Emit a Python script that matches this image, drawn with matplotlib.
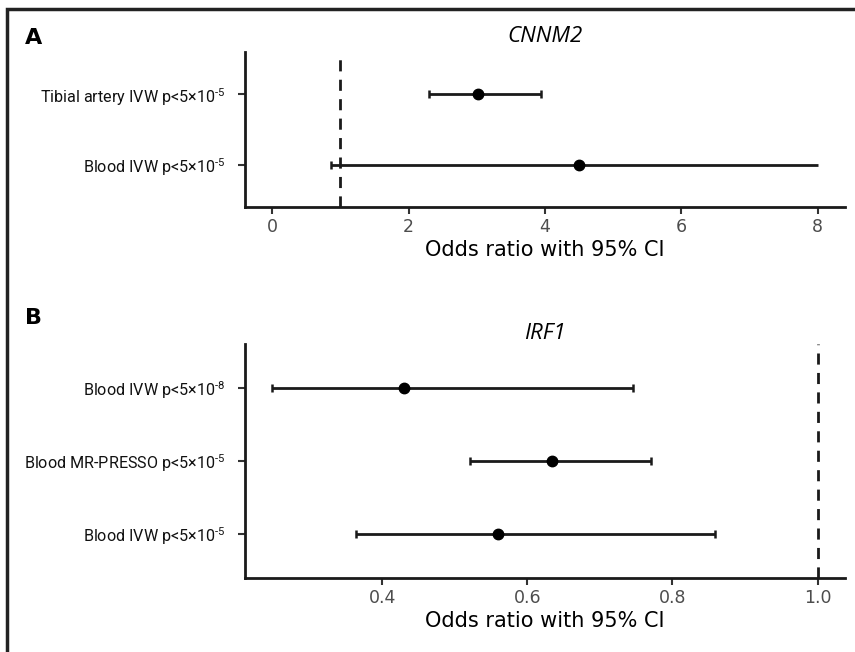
import numpy as np
import matplotlib
matplotlib.use("Agg")
import matplotlib.pyplot as plt
from matplotlib.patches import Rectangle

plt.rcParams['mathtext.fontset'] = 'custom'
plt.rcParams['mathtext.rm'] = 'Roboto'
plt.rcParams['mathtext.it'] = 'Roboto:italic'
plt.rcParams['mathtext.default'] = 'rm'

# panel A - CNNM2 (bottom to top)
a_labels = ["Blood IVW p<5×10$^{\\text{-}5}$", "Tibial artery IVW p<5×10$^{\\text{-}5}$"]
a_or = [4.50, 3.02]
a_lo = [0.86, 2.30]
a_hi = [8.00, 3.94]
a_capped_hi = [False, True]

# panel B - IRF1 (bottom to top)
b_labels = ["Blood IVW p<5×10$^{\\text{-}5}$", "Blood MR-PRESSO p<5×10$^{\\text{-}5}$",
            "Blood IVW p<5×10$^{\\text{-}8}$"]
b_or = [0.559, 0.634, 0.430]
b_lo = [0.364, 0.521, 0.248]
b_hi = [0.859, 0.770, 0.746]
b_capped_hi = [True, True, True]

label_font = "Roboto"
ink = "#1a1a1a"


def forest(ax, labels, orr, lo, hi, capped_hi, title, xticks, xlim, title_pad):
    y = np.arange(1, len(labels) + 1)
    ax.axvline(1, color=ink, lw=2, ls=(0, (4, 3)), zorder=1)
    ax.hlines(y, lo, hi, color=ink, lw=2, zorder=2)
    ax.plot(lo, y, ls='none', marker='|', ms=6, mew=1.8, color=ink, zorder=2)
    for yy, h, c in zip(y, hi, capped_hi):
        if c:
            ax.plot(h, yy, marker='|', ms=6, mew=1.8, color=ink, zorder=2)
    ax.plot(orr, y, ls='none', marker='o', ms=7.5, color='black', zorder=3)

    ax.set_ylim(0.4, len(labels) + 0.6)
    ax.set_xlim(*xlim)
    ax.set_yticks(y)
    ax.set_yticklabels(labels, fontfamily=label_font, fontsize=11.6, color='#111111')
    ax.set_xticks(xticks)
    ax.tick_params(axis='x', labelsize=12.5, labelcolor='#4d4d4d', pad=3)
    ax.tick_params(axis='y', pad=9)
    ax.set_xlabel("Odds ratio with 95% CI", fontsize=15, color='black', labelpad=3)
    ax.set_title(title, fontfamily="Open Sans", style='italic', fontsize=16, pad=title_pad)
    for s in ['top', 'right']:
        ax.spines[s].set_visible(False)
    for s in ['left', 'bottom']:
        ax.spines[s].set_linewidth(2)
        ax.spines[s].set_color(ink)
    ax.tick_params(length=5, width=1.5, color='#333333')


fig = plt.figure(figsize=(8.55, 6.52), dpi=100)
axA = fig.add_axes([245 / 855, 1 - 207 / 652, 600 / 855, 155 / 652])
axB = fig.add_axes([245 / 855, 1 - 578 / 652, 600 / 855, 234 / 652])

forest(axA, a_labels, a_or, a_lo, a_hi, a_capped_hi, "CNNM2", [0, 2, 4, 6, 8], (-0.4, 8.4), 7)
forest(axB, b_labels, b_or, b_lo, b_hi, b_capped_hi, "IRF1", [0.4, 0.6, 0.8, 1.0], (0.2112, 1.0376), 1)
axB.set_xticklabels(["0.4", "0.6", "0.8", "1.0"])

fig.text(25 / 855, 1 - 38 / 652, "A", fontsize=16, fontweight='bold', va='center', ha='left')
fig.text(25 / 855, 1 - 318 / 652, "B", fontsize=16, fontweight='bold', va='center', ha='left')

# outer frame (cut off at right and bottom)
fig.patches.append(Rectangle((7 / 855, -0.1), 1.2, 1 - 9 / 652 + 0.1, transform=fig.transFigure,
                             fill=False, lw=2.5, edgecolor='#222222'))

fig.savefig("out.png", dpi=100)
